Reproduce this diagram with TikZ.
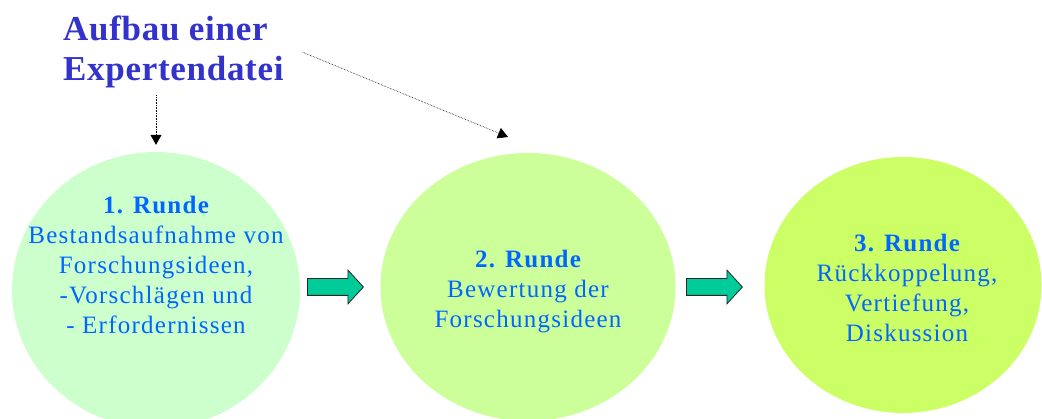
\documentclass[tikz,border=0pt]{standalone}
\usepackage{fontspec}
\setmainfont{Liberation Serif}
\newfontfamily\titlefont[LetterSpace=2]{Liberation Serif}
\newfontfamily\rundefont[LetterSpace=5]{Liberation Serif}
\usetikzlibrary{shapes.geometric,shapes.arrows,arrows.meta}
\definecolor{titleblue}{HTML}{3333CC}
\definecolor{textblue}{HTML}{0066FF}
\definecolor{rundeA}{HTML}{CCFFCC}
\definecolor{rundeB}{HTML}{CCFF99}
\definecolor{rundeC}{HTML}{CCFF66}
\definecolor{pfeilgruen}{HTML}{00CC99}

\begin{document}
\begin{tikzpicture}[x=1pt,y=-1pt,
  runde/.style={ellipse,draw=none,inner sep=0pt},
  rundetext/.style={anchor=north,align=center,inner sep=0pt,text=textblue,
    font=\rundefont\fontsize{25}{30}\selectfont},
  blockpfeil/.style={single arrow,draw=black!85,fill=pfeilgruen,line width=0.8pt,
    inner xsep=0pt,inner ysep=8pt,minimum height=56pt,
    single arrow head extend=8.5pt,single arrow tip angle=95,anchor=tail},
  punktpfeil/.style={densely dotted,line width=0.6pt,
    -{Triangle[width=11pt,length=10pt]}}]
\useasboundingbox (0,0) rectangle (1042,419);
% die drei Runden
\node[runde,fill=rundeA,minimum width=288pt,minimum height=276pt] (r1) at (156,290) {};
\node[runde,fill=rundeB,minimum width=295pt,minimum height=268pt] (r2) at (528,287) {};
\node[runde,fill=rundeC,minimum width=277pt,minimum height=256pt] (r3) at (903,285) {};
\node[rundetext] (t1) at (156,196) {{\bfseries 1. Runde}\\Bestandsaufnahme von\\Forschungsideen,\\-Vorschl\"agen und\\- Erfordernissen};
\node[rundetext] (t2) at (528,250) {{\bfseries 2. Runde}\\Bewertung der\\Forschungsideen};
\node[rundetext] (t3) at (907,234) {{\bfseries 3. Runde}\\R\"uckkoppelung,\\Vertiefung,\\Diskussion};
% Pfeile zwischen den Runden
\node[blockpfeil] (p1) at (307,287) {};
\node[blockpfeil] (p2) at (686,287) {};
% Titel
\node[anchor=north west,align=left,inner sep=0pt,text=titleblue,
  font=\titlefont\bfseries\fontsize{35}{40}\selectfont] (titel) at (63,16) {Aufbau einer\\Expertendatei};
\coordinate (e2) at (508,137);
\draw[punktpfeil,shorten <=7pt,shorten >=7pt] (titel.south -| r1.north) -- (r1.north);
\draw[punktpfeil] ([xshift=19pt]titel.east) -- (e2);
\end{tikzpicture}
\end{document}
